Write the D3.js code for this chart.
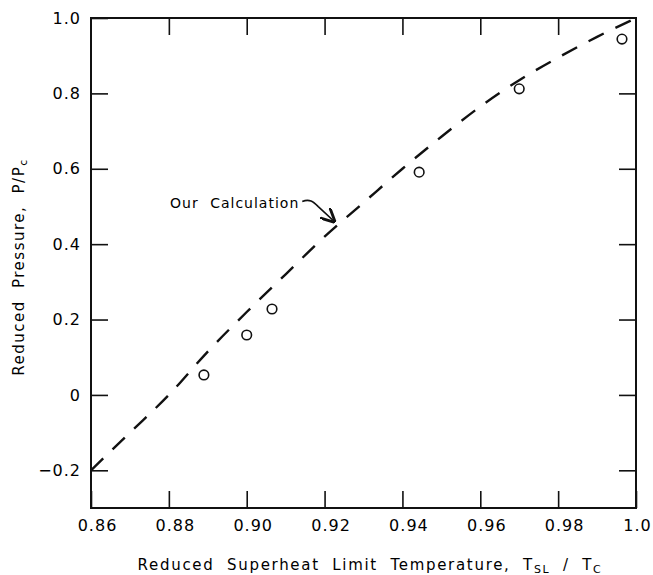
<!DOCTYPE html>
<html>
<head>
<meta charset="utf-8">
<script src="https://cdn.jsdelivr.net/npm/d3@7"></script>
<style>
  body { margin: 0; background: #fff; }
  text { font-family: "DejaVu Sans", sans-serif; fill: #000; }
</style>
</head>
<body>
<script>
// donnees
const xTicks = [0.86, 0.88, 0.90, 0.92, 0.94, 0.96, 0.98, 1.0];
const xTickLabels = ["0.86", "0.88", "0.90", "0.92", "0.94", "0.96", "0.98", "1.0"];
const yTicks = [-0.2, 0, 0.2, 0.4, 0.6, 0.8, 1.0];
const yTickLabels = ["\u22120.2", "0", "0.2", "0.4", "0.6", "0.8", "1.0"];

// courbe calculee (tirets)
const calcT = [0.86, 0.87, 0.88, 0.89, 0.90, 0.91, 0.92, 0.93, 0.94, 0.95, 0.96, 0.97, 0.98, 0.99, 0.999];
const calcP = [-0.2, -0.1, 0.0, 0.115, 0.22, 0.32, 0.42, 0.51, 0.60, 0.685, 0.765, 0.835, 0.895, 0.95, 0.995];

// points mesures (cercles)
const measT = [0.889, 0.900, 0.9065, 0.9443, 0.970, 0.9964];
const measP = [0.053, 0.159, 0.228, 0.591, 0.812, 0.944];

const W = 653, H = 575;
const margin = {top: 18, right: 17, bottom: 67, left: 91};
const width = W - margin.left - margin.right;
const height = H - margin.top - margin.bottom;

const svg = d3.select("body").append("svg")
    .attr("width", W)
    .attr("height", H);

const g = svg.append("g")
    .attr("transform", `translate(${margin.left}, ${margin.top})`);

const x = d3.scaleLinear().domain([0.86, 1.0]).range([0, width]);
const y = d3.scaleLinear().domain([-0.3, 1.0]).range([height, 0]);

const tickLen = 17;

// axes : ticks vers l'interieur
const axeBas = d3.axisBottom(x).tickValues(xTicks).tickSizeInner(-tickLen).tickSizeOuter(0)
    .tickPadding(12).tickFormat((d, i) => xTickLabels[i]);
const axeHaut = d3.axisTop(x).tickValues(xTicks.slice(1, -1)).tickSizeInner(-tickLen).tickSizeOuter(0).tickFormat("");
const axeGauche = d3.axisLeft(y).tickValues(yTicks).tickSizeInner(-tickLen).tickSizeOuter(0)
    .tickPadding(10).tickFormat((d, i) => yTickLabels[i]);
const axeDroit = d3.axisRight(y).tickValues(yTicks.slice(0, -1)).tickSizeInner(-tickLen).tickSizeOuter(0).tickFormat("");

const gx = g.append("g").attr("transform", `translate(0, ${height})`).call(axeBas);
g.append("g").call(axeHaut);
g.append("g").call(axeGauche);
g.append("g").attr("transform", `translate(${width}, 0)`).call(axeDroit);

g.selectAll(".domain").remove();
g.selectAll(".tick line").attr("stroke", "#111").attr("stroke-width", 1.6);
g.selectAll(".tick text").style("font-size", "16px").style("letter-spacing", "1px").attr("fill", "#000");
gx.selectAll(".tick text").attr("dx", (d, i) => i === xTicks.length - 1 ? 1 : 6);

// cadre
g.append("rect")
    .attr("x", 0).attr("y", 0)
    .attr("width", width).attr("height", height)
    .attr("fill", "none").attr("stroke", "#111").attr("stroke-width", 2);

// courbe en tirets
const ligne = d3.line()
    .x((d, i) => x(calcT[i]))
    .y((d, i) => y(calcP[i]))
    .curve(d3.curveMonotoneX);

g.append("path")
    .attr("d", ligne(calcT))
    .attr("fill", "none")
    .attr("stroke", "#111")
    .attr("stroke-width", 2.4)
    .attr("stroke-dasharray", "17,13");

// points
g.selectAll("circle.mes")
    .data(measT)
    .enter().append("circle")
    .attr("class", "mes")
    .attr("cx", d => x(d))
    .attr("cy", (d, i) => y(measP[i]))
    .attr("r", 4.8)
    .attr("fill", "none")
    .attr("stroke", "#111")
    .attr("stroke-width", 1.6);

// annotation
const tx = x(0.9135), ty = y(0.497);
g.append("text")
    .attr("x", tx).attr("y", ty)
    .attr("text-anchor", "end")
    .style("font-size", "14px")
    .style("letter-spacing", "1px")
    .style("word-spacing", "6px")
    .text("Our Calculation");

svg.append("defs").append("marker")
    .attr("id", "fleche")
    .attr("viewBox", "0 0 10 10")
    .attr("refX", 9).attr("refY", 5)
    .attr("markerWidth", 9).attr("markerHeight", 9)
    .attr("orient", "auto")
    .append("path")
    .attr("d", "M0,0 L10,5 L0,10")
    .attr("fill", "none")
    .attr("stroke", "#111")
    .attr("stroke-width", 2);

const ax = x(0.9225), ay = y(0.46);
g.append("path")
    .attr("d", `M${tx + 3},${ty - 6} C${tx + 10},${ty - 9} ${tx + 14},${ty - 6} ${tx + 19},${ty - 1} L${ax},${ay}`)
    .attr("fill", "none")
    .attr("stroke", "#111")
    .attr("stroke-width", 1.6)
    .attr("marker-end", "url(#fleche)");

// titres des axes
const titreX = svg.append("text")
    .attr("x", 370)
    .attr("y", 570)
    .attr("text-anchor", "middle")
    .style("font-size", "15px")
    .style("letter-spacing", "1.7px")
    .style("word-spacing", "6px");
titreX.append("tspan").text("Reduced Superheat Limit Temperature, T");
titreX.append("tspan").attr("dy", 3).style("font-size", "11px").text("SL");
titreX.append("tspan").attr("dy", -3).text(" / T");
titreX.append("tspan").attr("dy", 3).style("font-size", "11px").text("C");

const titreY = svg.append("text")
    .attr("transform", `translate(24, ${margin.top + 249}) rotate(-90)`)
    .attr("text-anchor", "middle")
    .style("font-size", "15px")
    .style("letter-spacing", "1.5px")
    .style("word-spacing", "6px");
titreY.append("tspan").text("Reduced Pressure, P/P");
titreY.append("tspan").attr("dy", 3).style("font-size", "11px").text("c");
</script>
</body>
</html>
